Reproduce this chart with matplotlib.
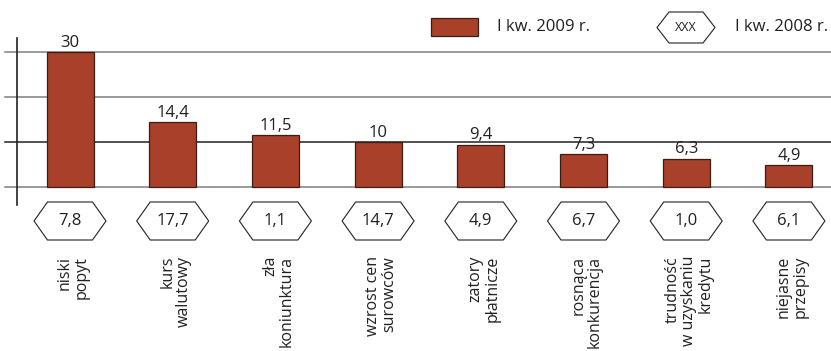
import matplotlib.pyplot as plt
from matplotlib.patches import Polygon, Rectangle

plt.rcParams['font.family'] = ['Open Sans', 'DejaVu Sans']

# data: share of firms naming each barrier (%)
categories = ['niski\npopyt', 'kurs\nwalutowy', 'zła\nkoniunktura', 'wzrost cen\nsurowców',
              'zatory\npłatnicze', 'rosnąca\nkonkurencja', 'trudność\nw uzyskaniu\nkredytu',
              'niejasne\nprzepisy']
values_2009 = [30, 14.4, 11.5, 10, 9.4, 7.3, 6.3, 4.9]
values_2008 = [7.8, 17.7, 1.1, 14.7, 4.9, 6.7, 1.0, 6.1]
value_labels_2009 = ['30', '14,4', '11,5', '10', '9,4', '7,3', '6,3', '4,9']
value_labels_2008 = ['7,8', '17,7', '1,1', '14,7', '4,9', '6,7', '1,0', '6,1']
gridlines = [0, 10, 20, 30]

BAR_COLOR = '#a8402a'
EDGE_COLOR = '#3a1d14'
TEXT_COLOR = '#231f20'

W, H = 831, 351
fig = plt.figure(figsize=(W / 100, H / 100), dpi=100)

# pixel layout of the plotting area
px_left, px_right, px_top, px_bottom = 17, 831, 38, 205
zero_px = 187
px_per_unit = 4.5
step_px = 102.7
first_px = 70

ax = fig.add_axes([px_left / W, 1 - px_bottom / H,
                   (px_right - px_left) / W, (px_bottom - px_top) / H])
ax.set_xlim((px_left - first_px) / step_px, (px_right - first_px) / step_px)
ax.set_ylim(-(px_bottom - zero_px) / px_per_unit, (zero_px - px_top) / px_per_unit)
for side in ['top', 'right', 'bottom']:
    ax.spines[side].set_visible(False)
ax.spines['left'].set_color('#222222')
ax.spines['left'].set_linewidth(1.2)
ax.set_xticks([])
ax.set_yticks([])
ax.patch.set_alpha(0)


def y_of(px):
    return (zero_px - px) / px_per_unit


x_unit = 1 / step_px
x0 = (5 - first_px) / step_px
for g in gridlines:
    ax.plot([x0, ax.get_xlim()[1]], [g, g], color='#222222' if g == 10 else '#7f7f7f',
            lw=1.1, clip_on=False, zorder=1)

xs = list(range(len(categories)))
ax.bar(xs, values_2009, width=47 * x_unit, color=BAR_COLOR, edgecolor=EDGE_COLOR,
       linewidth=0.9, zorder=3)

for x, v, lab in zip(xs, values_2009, value_labels_2009):
    ax.text(x, v + 0.3, lab, ha='center', va='bottom', fontsize=12, color=TEXT_COLOR)


def hexagon(cx, cy, w, h, inset):
    return [(cx - w / 2, cy), (cx - w / 2 + inset, cy + h / 2), (cx + w / 2 - inset, cy + h / 2),
            (cx + w / 2, cy), (cx + w / 2 - inset, cy - h / 2), (cx - w / 2 + inset, cy - h / 2)]


hex_cy = y_of(221)
hex_h = 38 / px_per_unit
for x, lab in zip(xs, value_labels_2008):
    ax.add_patch(Polygon(hexagon(x, hex_cy, 72 * x_unit, hex_h, 13.5 * x_unit), closed=True,
                         facecolor='white', edgecolor='#222222', lw=0.8, clip_on=False))
    ax.text(x, hex_cy, lab, ha='center', va='center', fontsize=12, color=TEXT_COLOR)

for x, cat in zip(xs, categories):
    ax.text(x + 0.03, y_of(256), cat, rotation=90, ha='center', va='top',
            multialignment='right', fontsize=11.5, color=TEXT_COLOR, linespacing=1.05,
            clip_on=False)

# legend drawn in figure pixels
def fx(px):
    return px / W


def fy(px):
    return 1 - px / H


fig.patches.append(Rectangle((fx(431), fy(36)), fx(47), 18 / H, transform=fig.transFigure,
                             facecolor=BAR_COLOR, edgecolor=EDGE_COLOR, lw=0.9))
fig.text(fx(497), fy(27), 'I kw. 2009 r.', ha='left', va='center', fontsize=12,
         color=TEXT_COLOR)
fig.patches.append(Polygon([(fx(px), fy(py)) for px, py in
                            hexagon(686, 27.5, 58, -31, 12)], closed=True,
                           transform=fig.transFigure, facecolor='white',
                           edgecolor='#222222', lw=0.8))
fig.text(fx(686), fy(27.5), 'XXX', ha='center', va='center', fontsize=9, color=TEXT_COLOR)
fig.text(fx(735), fy(27), 'I kw. 2008 r.', ha='left', va='center', fontsize=12,
         color=TEXT_COLOR)

fig.savefig('out.png', dpi=100)
